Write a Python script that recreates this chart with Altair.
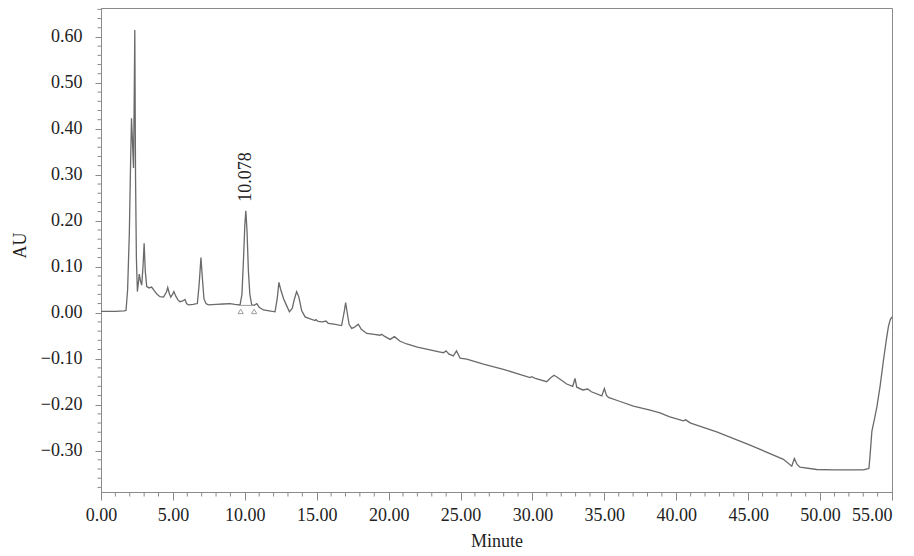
import altair as alt
import pandas as pd

# Chromatogram trace (minutes, absorbance units)
minutes = [
    0.00, 1.00, 1.60, 1.74, 1.85, 1.97, 2.06, 2.12, 2.18, 2.26, 2.31, 2.35, 2.40, 2.46, 2.53,
    2.60, 2.66, 2.74, 2.83, 2.92, 3.00, 3.08, 3.18, 3.35, 3.52, 3.70, 3.90, 4.10, 4.35,
    4.55, 4.64, 4.75, 4.85, 4.97, 5.07, 5.20, 5.35, 5.49, 5.65, 5.84, 5.95, 6.07, 6.40,
    6.70, 6.82, 6.95, 7.05, 7.16, 7.30, 7.46, 8.00, 8.50, 8.97, 9.30, 9.67, 9.80, 9.90,
    10.00, 10.07, 10.15, 10.25, 10.35, 10.48, 10.65, 10.83, 11.00, 11.29, 11.70, 12.10,
    12.25, 12.37, 12.50, 12.70, 12.90, 13.10, 13.30, 13.45, 13.60, 13.75, 13.95, 14.19,
    14.50, 14.88, 14.95, 15.10, 15.40, 15.64, 15.80, 16.20, 16.73, 16.90, 17.01, 17.12,
    17.25, 17.43, 17.60, 17.89, 18.10, 18.48, 19.00, 19.40, 19.52, 19.70, 20.10, 20.40,
    20.80, 21.26, 22.00, 22.80, 23.50, 23.81, 23.99, 24.20, 24.50, 24.72, 24.97, 25.43,
    26.59, 27.98, 29.00, 29.83, 29.95, 30.20, 30.99, 31.25, 31.50, 31.80, 32.38, 32.80,
    32.96, 33.08, 33.50, 33.84, 34.10, 34.82, 35.00, 35.15, 35.28, 36.00, 37.02, 38.18,
    38.87, 39.50, 40.49, 40.65, 41.00, 42.81, 45.13, 47.45, 48.03, 48.21, 48.40, 48.60,
    49.77, 50.92, 53.00, 53.36, 53.40, 53.50, 53.60, 53.80, 53.95, 54.17, 54.40, 54.60,
    54.75, 54.88, 55.00,
]
au = [
    0.003, 0.003, 0.004, 0.005, 0.050, 0.173, 0.330, 0.423, 0.380, 0.315, 0.470, 0.615, 0.300, 0.120, 0.046,
    0.065, 0.084, 0.070, 0.060, 0.100, 0.151, 0.090, 0.057, 0.054, 0.056, 0.048, 0.040, 0.035, 0.034,
    0.045, 0.055, 0.042, 0.034, 0.040, 0.046, 0.036, 0.028, 0.024, 0.025, 0.029, 0.020, 0.017, 0.018,
    0.020, 0.060, 0.120, 0.075, 0.030, 0.020, 0.017, 0.018, 0.019, 0.020, 0.018, 0.017, 0.040, 0.110,
    0.190, 0.222, 0.180, 0.090, 0.040, 0.017, 0.016, 0.020, 0.012, 0.006, 0.004, 0.002,
    0.030, 0.066, 0.050, 0.030, 0.016, 0.002, 0.010, 0.030, 0.046, 0.035, 0.005, -0.009,
    -0.013, -0.017, -0.015, -0.019, -0.020, -0.018, -0.023, -0.025, -0.028, 0.000, 0.022, 0.000,
    -0.025, -0.034, -0.032, -0.025, -0.036, -0.045, -0.047, -0.049, -0.047, -0.051, -0.058, -0.052,
    -0.062, -0.068, -0.075, -0.080, -0.085, -0.087, -0.083, -0.090, -0.094, -0.083, -0.099, -0.101,
    -0.112, -0.123, -0.133, -0.141, -0.139, -0.143, -0.150, -0.142, -0.136, -0.142, -0.155, -0.160,
    -0.143, -0.162, -0.168, -0.166, -0.172, -0.181, -0.165, -0.180, -0.184, -0.192, -0.203, -0.212,
    -0.218, -0.226, -0.235, -0.233, -0.240, -0.259, -0.288, -0.319, -0.334, -0.317, -0.330, -0.336,
    -0.341, -0.342, -0.342, -0.339, -0.338, -0.300, -0.258, -0.228, -0.205, -0.160, -0.105, -0.060,
    -0.030, -0.015, -0.009,
]

# Annotated peak
peak_time = [10.078]
peak_au = [0.222]
peak_text = ["10.078"]

# Integration start/end markers and baseline
marker_time = [9.71, 10.65]
marker_au = [0.003, 0.003]
baseline_start = [9.71]
baseline_end = [10.65]
baseline_au = [0.016]

# Axis ticks: major (labelled) and minor
x_major = [0, 5, 10, 15, 20, 25, 30, 35, 40, 45, 50, 55]
x_minor = [i for i in range(0, 56) if i % 5 != 0]
y_major = [-0.30, -0.20, -0.10, 0.00, 0.10, 0.20, 0.30, 0.40, 0.50, 0.60]
y_minor = [round(-0.38 + 0.02 * i, 2) for i in range(53) if i % 5 != 4]

FONT = "Liberation Serif"
TXT = "#222222"
AXC = "#8a8a8a"
PLOT_H = 484

trace = pd.DataFrame({"t": minutes, "AU": au})
peak = pd.DataFrame({"t": peak_time, "AU": peak_au, "label": peak_text})
markers = pd.DataFrame({"t": marker_time, "AU": marker_au})
base = pd.DataFrame({"t": baseline_start, "t2": baseline_end, "AU": baseline_au})
xminor_df = pd.DataFrame({"t": x_minor})
yminor_df = pd.DataFrame({"AU": y_minor})

x_scale = alt.Scale(domain=[0, 55], nice=False, zero=False)
y_scale = alt.Scale(domain=[-0.390, 0.663], nice=False, zero=False)

x_axis = alt.Axis(
    values=x_major,
    format=".2f",
    tickSize=8,
    labelPadding=6,
    labelOverlap=False,
    labelFlush=False,
    labelAlign={"condition": {"test": "datum.value >= 55", "value": "right"}, "value": "center"},
    labelFont=FONT,
    labelFontSize=18,
    labelColor=TXT,
    tickColor=AXC,
    domainColor=AXC,
    grid=False,
    title="Minute",
    titleFont=FONT,
    titleFontSize=18,
    titleFontWeight="normal",
    titleColor=TXT,
    titleBaseline="alphabetic",
    titleY=54,
)

y_axis = alt.Axis(
    values=y_major,
    format=".2f",
    tickSize=6,
    labelPadding=13,
    labelOverlap=False,
    labelFlush=False,
    labelFont=FONT,
    labelFontSize=18,
    labelColor=TXT,
    tickColor=AXC,
    domainColor=AXC,
    grid=False,
    title="AU",
    titleFont=FONT,
    titleFontSize=18,
    titleFontWeight="normal",
    titleColor=TXT,
    titleAngle=270,
    titleAlign="center",
    titleBaseline="middle",
    titleX=-81,
    titleY=237,
)

line = alt.Chart(trace).mark_line(color="#6a6a6a", strokeWidth=1.3).encode(
    x=alt.X("t:Q", scale=x_scale, axis=x_axis),
    y=alt.Y("AU:Q", scale=y_scale, axis=y_axis),
)

xminor = alt.Chart(xminor_df).mark_rule(color=AXC, strokeWidth=1).encode(
    x=alt.X("t:Q"), y=alt.value(PLOT_H), y2=alt.value(PLOT_H + 4.5)
)

yminor = alt.Chart(yminor_df).mark_rule(color=AXC, strokeWidth=1).encode(
    y=alt.Y("AU:Q"), x=alt.value(0), x2=alt.value(-3.5)
)

baseline = alt.Chart(base).mark_rule(color="#9a9a9a", strokeWidth=1).encode(
    x=alt.X("t:Q"), x2="t2:Q", y=alt.Y("AU:Q")
)

tri = alt.Chart(markers).mark_point(
    shape="triangle-up", filled=False, size=28, color="#777777", strokeWidth=1
).encode(x=alt.X("t:Q"), y=alt.Y("AU:Q"))

label = alt.Chart(peak).mark_text(
    angle=270, align="left", baseline="middle", dx=9, font=FONT, fontSize=18, color=TXT
).encode(x=alt.X("t:Q"), y=alt.Y("AU:Q"), text="label:N")

chart = (
    alt.layer(line, xminor, yminor, baseline, tri, label)
    .properties(
        width=791,
        height=PLOT_H,
        autosize=alt.AutoSizeParams(type="none"),
        padding={"left": 93, "top": 0, "right": 14, "bottom": 58},
        background="white",
    )
    .configure_view(stroke=AXC, strokeWidth=1)
)

chart.save("out.html", embed_options={"renderer": "svg", "actions": False})
